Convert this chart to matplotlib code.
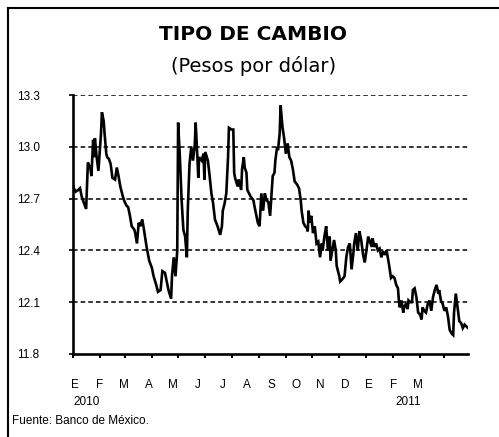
import matplotlib
matplotlib.use("Agg")
import matplotlib.pyplot as plt
from matplotlib.lines import Line2D
import pandas as pd

# Day offsets from 1 Jan 2010 and exchange rate (pesos per dollar)
days = [0, 3, 6, 8, 10, 15, 16, 17, 20, 21, 23, 24, 25, 27, 29, 32, 33, 35, 36, 38,
        39, 41, 43, 45, 48, 50, 52, 54, 56, 57, 59, 61, 63, 65, 67, 70, 71, 73, 75, 77,
        79, 81, 84, 87, 90, 92, 95, 97, 100, 102, 105, 107, 109, 112, 113, 115, 117, 119, 120, 122,
        124, 126, 128, 130, 131, 133, 135, 137, 139, 140, 142, 143, 144, 147, 149, 150, 151, 154, 156, 158,
        160, 162, 165, 168, 170, 171, 173, 175, 177, 178, 181, 183, 184, 185, 188, 189, 192, 193, 195, 196,
        198, 199, 201, 203, 206, 207, 209, 211, 213, 215, 217, 219, 221, 223, 225, 227, 228, 230, 231, 233,
        234, 236, 237, 239, 241, 243, 245, 247, 249, 251, 253, 256, 258, 260, 261, 263, 265, 267, 268, 269,
        270, 272, 274, 276, 278, 280, 282, 284, 285, 287, 289, 291, 293, 294, 296, 298, 300, 301, 304, 305,
        307, 310, 312, 314, 316, 318, 320, 321, 323, 325, 327, 329, 331, 333, 335, 337, 339, 341, 342, 344,
        346, 348, 350, 352, 354, 356, 358, 359, 361, 363, 365, 367, 369, 371, 372, 373, 375, 377, 378, 380,
        382, 383, 385, 387, 388, 390, 392, 394, 396, 398, 399, 401, 403, 405, 407, 409, 411, 413, 415, 417,
        418, 420, 422, 424, 426, 428, 430, 432, 434, 435, 437, 439, 441, 443, 445, 447, 449, 451]
rate = [12.77, 12.74, 12.75, 12.76, 12.71, 12.64, 12.77, 12.91, 12.87, 12.83, 13.04, 12.94, 13.05, 12.94, 12.86, 13.08, 13.20, 13.15, 13.08, 12.96,
        12.94, 12.93, 12.90, 12.82, 12.81, 12.88, 12.83, 12.77, 12.73, 12.71, 12.68, 12.66, 12.65, 12.60, 12.54, 12.52, 12.50, 12.44, 12.56, 12.54,
        12.58, 12.52, 12.42, 12.34, 12.30, 12.25, 12.20, 12.16, 12.17, 12.28, 12.27, 12.22, 12.17, 12.12, 12.25, 12.36, 12.25, 12.40, 13.14, 12.94,
        12.69, 12.52, 12.48, 12.36, 12.63, 12.90, 13.00, 12.92, 13.01, 13.14, 12.94, 12.82, 12.94, 12.92, 12.96, 12.81, 12.97, 12.92, 12.83, 12.73,
        12.67, 12.58, 12.54, 12.49, 12.54, 12.63, 12.67, 12.73, 12.94, 13.11, 13.10, 13.10, 12.85, 12.82, 12.77, 12.81, 12.75, 12.87, 12.94, 12.88,
        12.85, 12.75, 12.73, 12.71, 12.69, 12.66, 12.61, 12.56, 12.54, 12.73, 12.63, 12.73, 12.69, 12.68, 12.60, 12.75, 12.83, 12.85, 12.92, 13.00,
        12.98, 13.08, 13.24, 13.12, 13.05, 12.96, 13.02, 12.94, 12.92, 12.87, 12.80, 12.78, 12.76, 12.69, 12.63, 12.56, 12.54, 12.53, 12.51, 12.63,
        12.56, 12.60, 12.50, 12.54, 12.44, 12.45, 12.36, 12.44, 12.40, 12.48, 12.54, 12.40, 12.48, 12.34, 12.40, 12.46, 12.40, 12.31, 12.25, 12.22,
        12.23, 12.25, 12.36, 12.42, 12.44, 12.29, 12.38, 12.44, 12.50, 12.40, 12.51, 12.46, 12.38, 12.33, 12.40, 12.48, 12.45, 12.42, 12.47, 12.42,
        12.44, 12.40, 12.41, 12.36, 12.39, 12.38, 12.40, 12.37, 12.31, 12.24, 12.25, 12.24, 12.20, 12.18, 12.11, 12.07, 12.11, 12.04, 12.07, 12.09,
        12.06, 12.11, 12.10, 12.10, 12.17, 12.18, 12.13, 12.04, 12.03, 12.00, 12.07, 12.05, 12.04, 12.09, 12.11, 12.05, 12.13, 12.17, 12.20, 12.15,
        12.17, 12.11, 12.09, 12.05, 12.07, 12.02, 11.94, 11.92, 11.91, 12.04, 12.15, 12.07, 11.99, 11.98, 11.95, 11.97, 11.96, 11.95]

month_labels = ["E", "F", "M", "A", "M", "J", "J", "A", "S", "O", "N", "D", "E", "F", "M"]
year_labels = ["2010", "2011"]
y_ticks = [11.8, 12.1, 12.4, 12.7, 13.0, 13.3]

start = pd.Timestamp("2010-01-01")
dates = [start + pd.Timedelta(days=d) for d in days]
month_starts = pd.date_range("2010-01-01", "2011-03-01", freq="MS")

fig = plt.figure(figsize=(4.99, 4.37), dpi=100)
ax = fig.add_axes([0.1463, 0.190, 0.7917, 0.5926])

ax.plot(dates, rate, color="black", lw=1.9, solid_joinstyle="miter")

ax.set_ylim(11.8, 13.3)
ax.set_xlim(start, start + pd.Timedelta(days=451))
ax.set_yticks(y_ticks)
ax.set_yticklabels([f"{v:.1f}" for v in y_ticks], family="Liberation Sans", fontsize=8.5)
ax.set_xticks(month_starts)
ax.set_xticklabels([])

for v in y_ticks[1:]:
    ax.axhline(v, color="black", lw=1.1, ls=(0, (3, 2)), zorder=0)

for s in ["top", "right"]:
    ax.spines[s].set_visible(False)
for s in ["left", "bottom"]:
    ax.spines[s].set_linewidth(1.9)

ax.tick_params(axis="y", direction="out", length=3, width=1.2, pad=21)
ax.tick_params(axis="x", direction="out", length=3, width=1.5)

for i, lab in enumerate(month_labels):
    ax.text(0.006 + 0.062 * i, -0.118, lab, transform=ax.transAxes,
            ha="center", va="center", fontsize=8.5, family="Liberation Sans")
ax.text(0.0354, -0.184, year_labels[0], transform=ax.transAxes,
        ha="center", va="center", fontsize=8.5, family="Liberation Sans")
ax.text(0.848, -0.184, year_labels[1], transform=ax.transAxes,
        ha="center", va="center", fontsize=8.5, family="Liberation Sans")

fig.text(0.507, 1 - 35 / 437, "TIPO DE CAMBIO", ha="center", va="center",
         fontsize=14.5, fontweight="bold", family="DejaVu Sans")
fig.text(0.508, 1 - 66 / 437, "(Pesos por dólar)", ha="center", va="center",
         fontsize=14, family="DejaVu Sans")
fig.text(12 / 499, 1 - 421 / 437, "Fuente: Banco de México.", ha="left", va="center",
         fontsize=8.5, family="Liberation Sans")

# frame lines (left and top)
fig.add_artist(Line2D([8 / 499, 8 / 499], [0, 1 - 8 / 437], color="black", lw=1.5,
                      transform=fig.transFigure))
fig.add_artist(Line2D([8 / 499, 1], [1 - 8 / 437, 1 - 8 / 437], color="black", lw=1.5,
                      transform=fig.transFigure))

fig.savefig("out.png", dpi=100)
